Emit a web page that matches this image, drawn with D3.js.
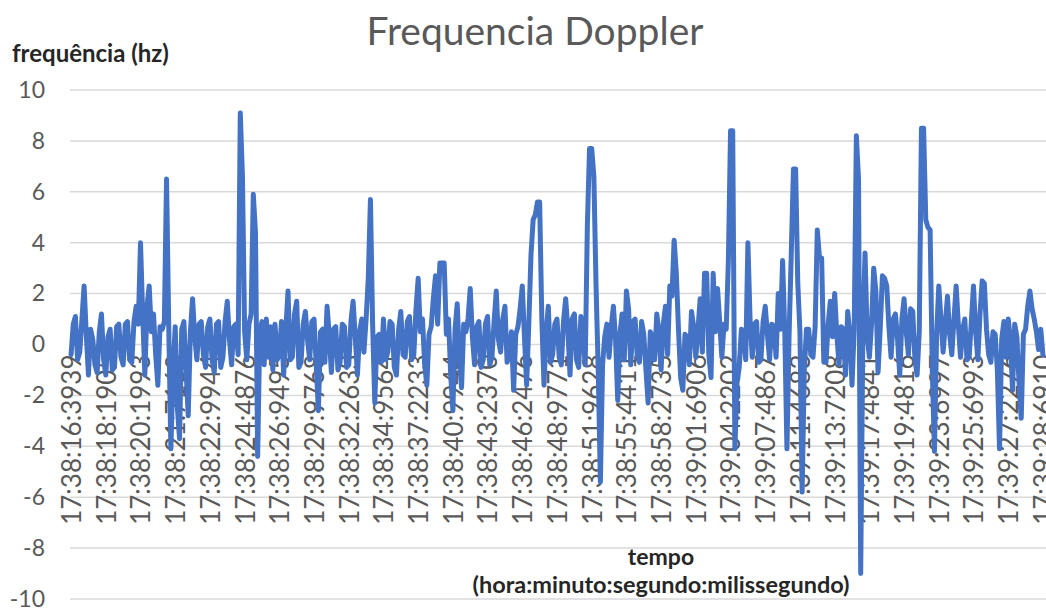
<!DOCTYPE html>
<html>
<head>
<meta charset="utf-8">
<script src="https://cdn.jsdelivr.net/npm/d3@7/dist/d3.min.js"></script>
<style>
  html, body { margin: 0; padding: 0; background: #fff; }
  svg { display: block; }
</style>
</head>
<body>
<svg id="chart" width="1046" height="608"></svg>
<script>
// ---- data ----
const title = "Frequencia Doppler";
const yTitle = "frequência (hz)";
const xTitle1 = "tempo";
const xTitle2 = "(hora:minuto:segundo:milissegundo)";

const tickLabels = [
  "17:38:16:3939", "17:38:18:1905", "17:38:20:1993", "17:38:21:7168", "17:38:22:9944",
  "17:38:24:4876", "17:38:26:9495", "17:38:29:9768", "17:38:32:2633", "17:38:34:9564",
  "17:38:37:2233", "17:38:40:9944", "17:38:43:2370", "17:38:46:2476", "17:38:48:9771",
  "17:38:51:9628", "17:38:55:4411", "17:38:58:2735", "17:39:01:6906", "17:39:04:2202",
  "17:39:07:4867", "17:39:11:4683", "17:39:13:7208", "17:39:17:4841", "17:39:19:4816",
  "17:39:23:6997", "17:39:25:6993", "17:39:27:2276", "17:39:28:6910"
];
const labelInterval = 16;

const yTicks = [10, 8, 6, 4, 2, 0, -2, -4, -6, -8, -10];

const values = [
  -0.4, 0.8, 1.1, -0.6, -0.3, 1.0, 2.3, 0.4, -1.2, 0.6, 0.2, -0.8, -1.1, 0.5, 1.2, -0.6,
  -1.2, 0.3, 0.6, -1.0, -0.9, 0.7, 0.8, -0.5, -0.8, 0.8, 0.9, -0.6, -0.7, 0.9, 1.5, 0.8,
  4.0, 1.2, -1.2, 1.5, 2.3, 0.5, 1.2, -0.4, -1.6, 0.7, 0.6, 0.9, 6.5, 0.8, -4.1, -1.0,
  0.7, -2.5, -3.7, 0.6, 0.9, -1.0, -2.8, 0.5, 1.8, 0.3, -0.6, 0.8, 0.9, -0.4, -0.9, 0.7,
  1.0, -0.6, -1.1, 0.8, 0.9, -0.9, -0.5, 0.9, 1.7, 0.2, -0.8, 0.7, 0.8, -0.4, 9.1, 6.6,
  0.5, -0.6, 0.8, 1.2, 5.9, 4.4, -4.4, 0.5, 0.9, -0.8, 1.0, -0.5, 0.7, -1.0, 0.8, -0.6,
  -0.4, 0.9, -1.2, 0.6, 2.1, -0.6, -0.5, 1.2, 1.7, -0.9, -0.7, 0.8, 1.3, 0.2, -0.6, 0.9,
  1.0, -0.8, -2.6, 0.5, 0.6, -0.7, 1.5, 0.4, -1.1, 0.6, 0.7, -1.0, -0.7, 0.8, 0.7, -0.9,
  -0.8, 0.9, 1.7, 0.3, -1.2, 0.5, 1.0, -0.3, 1.0, 2.6, 5.7, 0.8, -2.3, 0.3, 0.4, -0.7,
  1.0, -0.6, -0.3, 0.9, 0.8, -0.9, -1.2, 0.6, 1.3, -0.4, -0.5, 0.9, 1.1, -0.6, -0.4, 1.4,
  2.6, 0.5, 1.0, -0.8, -1.6, 0.4, 0.7, 1.8, 2.7, 0.8, 3.2, 3.2, 3.2, 0.4, 1.0, -1.2,
  -2.6, 0.6, 1.6, -0.5, -1.7, 0.8, 0.5, 1.0, 2.2, 0.3, -0.8, 0.7, 0.9, -0.9, -0.6, 0.8,
  1.1, -0.8, -0.5, 0.9, 2.1, 0.2, -0.3, 1.0, 1.5, -0.7, -0.4, 0.5, -1.8, 0.4, 0.7, 1.4,
  2.3, 0.3, -1.6, 0.8, 3.5, 4.9, 5.1, 5.6, 5.6, 1.0, -1.6, 0.5, 1.5, -0.7, -0.4, 0.8,
  1.0, -0.5, -0.8, 0.9, 1.8, 0.6, -1.2, 1.0, 1.2, -0.6, -0.9, 1.1, 0.4, -0.8, 4.7, 7.7,
  7.7, 6.6, 2.3, -1.0, -5.4, -0.8, 0.3, 0.8, -0.5, 0.7, 1.5, 0.2, -2.2, 0.4, 1.2, -0.6,
  2.1, 1.4, -0.8, 0.9, 1.0, -0.5, -0.7, 0.9, 0.4, -1.0, -2.3, 0.5, 0.3, -0.6, 1.2, 0.5,
  -1.0, 0.8, 1.5, -0.4, 2.3, 1.9, 4.1, 2.8, 0.6, -1.3, -1.8, 0.4, 0.3, -0.8, 1.3, 0.7,
  -0.5, 0.6, 1.8, -0.3, 2.8, 2.8, -0.4, -1.3, 2.8, 0.5, 2.2, 0.9, -0.5, 0.8, 0.6, 3.3,
  8.4, 8.4, -4.1, -1.5, -0.9, 0.6, 0.5, -0.6, 4.0, 1.0, -0.5, 0.8, 0.9, -0.7, -0.6, 0.9,
  1.5, 0.4, -0.6, 0.8, 0.7, -0.5, 2.0, 0.6, 3.3, 0.5, -4.1, 0.4, 3.6, 6.9, 6.9, 2.4,
  0.5, -5.8, -1.0, 0.6, 0.6, -0.4, -0.5, 0.7, 4.5, 3.4, 3.4, -0.7, -0.7, 0.8, 1.7, 0.3,
  2.0, 0.4, -0.8, 0.7, 0.6, -1.2, 1.3, 0.4, -1.6, 0.6, 8.2, 6.5, -9.0, 0.5, 3.6, 0.3,
  -0.5, 0.8, 3.0, 2.1, -1.1, 0.6, 2.7, 2.6, 2.3, 0.7, -0.5, 1.0, 1.2, 0.2, -1.2, 1.0,
  1.8, 0.5, -0.4, 1.4, 1.3, -0.6, -1.2, 0.5, 8.5, 8.5, 4.9, 4.6, 4.5, -1.0, -4.2, 0.4,
  2.3, 1.0, -0.3, 0.8, 1.9, 0.4, -0.4, 1.0, 2.3, 0.8, -0.5, 0.6, 1.0, -0.6, -0.5, 0.9,
  2.3, 0.5, -0.6, 1.2, 2.5, 2.4, 0.6, -0.4, -0.7, 0.5, 0.4, -1.0, -4.1, 0.2, 0.9, -0.5,
  1.0, 0.2, -1.8, 0.8, 0.3, -1.5, -2.9, 0.4, 0.6, 1.5, 2.1, 1.4, 1.0, 0.5, -0.2, 0.6,
  -0.4
];

// ---- layout ----
const svg = d3.select("#chart");
const plot = { left: 70, right: 1044, top: 90, bottom: 599 };
const font = "Lato, 'Open Sans', sans-serif";

const categories = d3.range(values.length);
const x = d3.scalePoint().domain(categories).range([plot.left, plot.right]).padding(0.5);
const y = d3.scaleLinear().domain([-10, 10]).range([plot.bottom, plot.top]);

// gridlines
svg.append("g")
  .selectAll("line")
  .data(yTicks)
  .join("line")
  .attr("x1", plot.left).attr("x2", 1046)
  .attr("y1", d => y(d)).attr("y2", d => y(d))
  .attr("stroke", "#d9d9d9").attr("stroke-width", 1.5);

// y axis labels
const yAxis = d3.axisLeft(y).tickValues(yTicks).tickSize(0).tickPadding(0).tickFormat(d => String(d));
svg.append("g")
  .attr("transform", `translate(45,0)`)
  .call(yAxis)
  .call(g => g.select(".domain").remove())
  .call(g => g.selectAll("text")
    .attr("fill", "#595959")
    .style("font-family", font)
    .style("font-size", "23px"));

// x tick labels (rotated), placed below the zero line
const xAxis = d3.axisBottom(x)
  .tickValues(tickLabels.map((_, k) => k * labelInterval))
  .tickSize(0)
  .tickFormat(i => tickLabels[i / labelInterval]);
svg.append("g")
  .attr("transform", `translate(0,${y(0) + 10})`)
  .call(xAxis)
  .call(g => g.select(".domain").remove())
  .call(g => g.selectAll("text")
    .attr("fill", "#595959")
    .style("font-family", font)
    .style("font-size", "26px")
    .attr("text-anchor", "end")
    .attr("transform", "rotate(-90)")
    .attr("x", 0)
    .attr("y", 0)
    .attr("dy", "0.36em"));

// line
const line = d3.line()
  .x((d, i) => x(i))
  .y(d => y(d));
svg.append("path")
  .datum(values)
  .attr("d", line)
  .attr("fill", "none")
  .attr("stroke", "#4472c4")
  .attr("stroke-width", 5)
  .attr("stroke-linejoin", "round")
  .attr("stroke-linecap", "round");

// titles
svg.append("text")
  .attr("x", 535).attr("y", 45)
  .attr("text-anchor", "middle")
  .attr("fill", "#595959")
  .style("font-family", font)
  .style("font-size", "39px")
  .text(title);

svg.append("text")
  .attr("x", 12).attr("y", 62)
  .attr("fill", "#262626")
  .style("font-family", font)
  .style("font-weight", "bold")
  .style("font-size", "24px")
  .text(yTitle);

svg.append("text")
  .attr("x", 661).attr("y", 565)
  .attr("text-anchor", "middle")
  .attr("fill", "#262626")
  .style("font-family", font)
  .style("font-weight", "bold")
  .style("font-size", "23px")
  .text(xTitle1);

svg.append("text")
  .attr("x", 661).attr("y", 593)
  .attr("text-anchor", "middle")
  .attr("fill", "#262626")
  .style("font-family", font)
  .style("font-weight", "bold")
  .style("font-size", "23.5px")
  .text(xTitle2);
</script>
</body>
</html>
